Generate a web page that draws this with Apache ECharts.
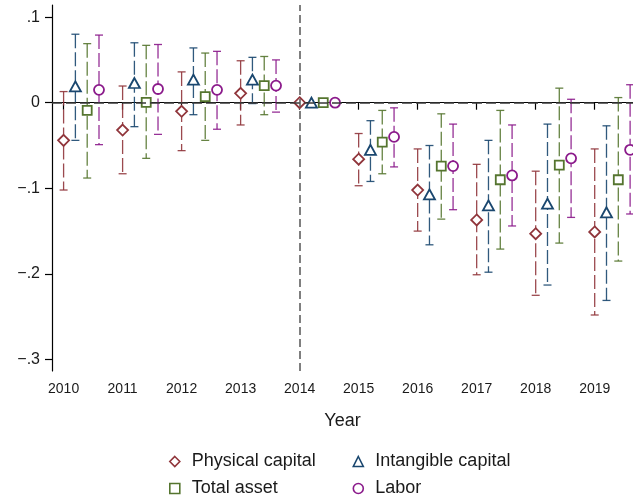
<!DOCTYPE html>
<html>
<head>
<meta charset="utf-8">
<script src="https://cdn.jsdelivr.net/npm/echarts@6/dist/echarts.min.js"></script>
<style>
html,body{margin:0;padding:0;background:#fff;}
#chart{width:633px;height:502px;}
</style>
</head>
<body>
<div id="chart"></div>
<script>
// ---- data ----
const years = [2010, 2011, 2012, 2013, 2014, 2015, 2016, 2017, 2018, 2019];
const yTicks = [-0.3, -0.2, -0.1, 0, 0.1];
const yTickLabels = ['\u2212.3', '\u2212.2', '\u2212.1', '0', '.1'];

const physicalCoef  = [-0.044, -0.032, -0.010, 0.011, 0, -0.066, -0.102, -0.137, -0.153, -0.151];
const physicalLow   = [-0.102, -0.083, -0.056, -0.026, null, -0.097, -0.150, -0.201, -0.225, -0.248];
const physicalHigh  = [0.013, 0.0195, 0.036, 0.049, null, -0.036, -0.054, -0.072, -0.080, -0.054];

const intangibleCoef = [0.019, 0.023, 0.027, 0.027, 0, -0.055, -0.107, -0.120, -0.118, -0.128];
const intangibleLow  = [-0.044, -0.028, -0.014, -0.001, null, -0.092, -0.166, -0.198, -0.213, -0.231];
const intangibleHigh = [0.080, 0.070, 0.064, 0.053, null, -0.021, -0.050, -0.044, -0.025, -0.027];

const totalCoef = [-0.009, 0.0005, 0.007, 0.020, 0, -0.046, -0.074, -0.090, -0.073, -0.090];
const totalLow  = [-0.088, -0.065, -0.044, -0.014, null, -0.083, -0.136, -0.171, -0.164, -0.185];
const totalHigh = [0.069, 0.067, 0.058, 0.054, null, -0.009, -0.013, -0.009, 0.017, 0.006];

const laborCoef = [0.015, 0.016, 0.015, 0.020, 0, -0.040, -0.074, -0.085, -0.065, -0.055];
const laborLow  = [-0.049, -0.037, -0.031, -0.011, null, -0.075, -0.125, -0.144, -0.134, -0.130];
const laborHigh = [0.079, 0.068, 0.060, 0.050, null, -0.006, -0.025, -0.026, 0.004, 0.021];

const refYear = 2014;

// ---- styling ----
const FONT = '"Liberation Sans", Arial, Helvetica, sans-serif';
const specs = [
  {name: 'Physical capital',   coef: physicalCoef,   lo: physicalLow,   hi: physicalHigh,   off: 0.0, color: '#90353B', symbol: 'diamond',  size: [11, 11]},
  {name: 'Intangible capital', coef: intangibleCoef, lo: intangibleLow, hi: intangibleHigh, off: 0.2, color: '#1A476F', symbol: 'triangle', size: [11, 10]},
  {name: 'Total asset',        coef: totalCoef,      lo: totalLow,      hi: totalHigh,      off: 0.4, color: '#55752F', symbol: 'rect',     size: [9, 9]},
  {name: 'Labor',              coef: laborCoef,      lo: laborLow,      hi: laborHigh,      off: 0.6, color: '#8B1A8B', symbol: 'circle',   size: [10, 10]}
];

const series = [];
// reference lines
series.push({
  type: 'line', name: '_ref', data: [], z: 1, silent: true,
  markLine: {
    silent: true, symbol: ['none', 'none'], label: {show: false}, animation: false,
    data: [
      {yAxis: 0, lineStyle: {color: '#3a3a3a', width: 1.6, type: [10, 4]}},
      {xAxis: refYear, lineStyle: {color: '#555555', width: 1.5, type: [8, 4]}}
    ]
  }
});

specs.forEach(s => {
  const ciData = [];
  years.forEach((y, i) => {
    if (s.lo[i] != null) ciData.push([y + s.off, s.lo[i], s.hi[i]]);
  });
  series.push({
    type: 'custom', name: s.name + ' CI', z: 2, silent: true,
    encode: {x: 0, y: [1, 2]},
    data: ciData,
    renderItem: function (params, api) {
      const x = api.value(0);
      const pLo = api.coord([x, api.value(1)]);
      const pHi = api.coord([x, api.value(2)]);
      const cw = 4;
      return {
        type: 'group',
        children: [
          {type: 'line', shape: {x1: pHi[0], y1: pHi[1], x2: pLo[0], y2: pLo[1]},
           style: {stroke: s.color, lineWidth: 1.3, lineDash: [14, 4], opacity: 0.9}},
          {type: 'line', shape: {x1: pHi[0] - cw, y1: pHi[1], x2: pHi[0] + cw, y2: pHi[1]},
           style: {stroke: s.color, lineWidth: 1.3, opacity: 0.9}},
          {type: 'line', shape: {x1: pLo[0] - cw, y1: pLo[1], x2: pLo[0] + cw, y2: pLo[1]},
           style: {stroke: s.color, lineWidth: 1.3, opacity: 0.9}}
        ]
      };
    }
  });
  series.push({
    type: 'scatter', name: s.name, z: 3,
    symbol: s.symbol, symbolSize: s.size,
    itemStyle: {color: '#ffffff', borderColor: s.color, borderWidth: 1.8, opacity: 1},
    data: years.map((y, i) => [y + s.off, s.coef[i]])
  });
});

function legendFor(idx, left, top) {
  const s = specs[idx];
  return {
    left: left, top: top, padding: 0, orient: 'horizontal',
    itemWidth: 10, itemHeight: 10, selectedMode: false,
    textStyle: {fontFamily: FONT, fontSize: 18, color: '#1a1a1a', padding: [0, 0, 0, 7]},
    data: [{name: s.name, icon: s.symbol, itemStyle: {color: '#ffffff', borderColor: s.color, borderWidth: 1.6}}]
  };
}

const chart = echarts.init(document.getElementById('chart'), null, {renderer: 'canvas'});
chart.setOption({
  animation: false,
  backgroundColor: '#ffffff',
  grid: {left: 52, right: 0, top: 5, bottom: 131, containLabel: false},
  xAxis: {
    type: 'value', min: 2009.8035, max: 2019.649,
    name: 'Year', nameLocation: 'middle', nameGap: 41,
    nameTextStyle: {fontFamily: FONT, fontSize: 18, color: '#1a1a1a'},
    splitLine: {show: false},
    axisLine: {show: true, lineStyle: {color: '#000', width: 1.2}},
    axisTick: {show: true, length: 7, lineStyle: {color: '#000', width: 1.2}, customValues: years},
    axisLabel: {fontFamily: FONT, fontSize: 14, color: '#1a1a1a', margin: 11, customValues: years,
      formatter: v => String(Math.round(v))}
  },
  yAxis: {
    type: 'value', min: -0.31343, max: 0.11414,
    splitLine: {show: false},
    axisLine: {show: true, lineStyle: {color: '#000', width: 1.2}},
    axisTick: {show: true, length: 7, lineStyle: {color: '#000', width: 1.2}, customValues: yTicks},
    axisLabel: {fontFamily: FONT, fontSize: 16, color: '#1a1a1a', margin: 12, customValues: yTicks,
      formatter: v => {
        const i = yTicks.findIndex(t => Math.abs(t - v) < 1e-6);
        return i >= 0 ? yTickLabels[i] : '';
      }}
  },
  legend: [
    legendFor(0, 169, 452.5),
    legendFor(1, 352.5, 452.5),
    legendFor(2, 169, 479.5),
    legendFor(3, 352.5, 479.5)
  ],
  series: series
});
</script>
</body>
</html>
